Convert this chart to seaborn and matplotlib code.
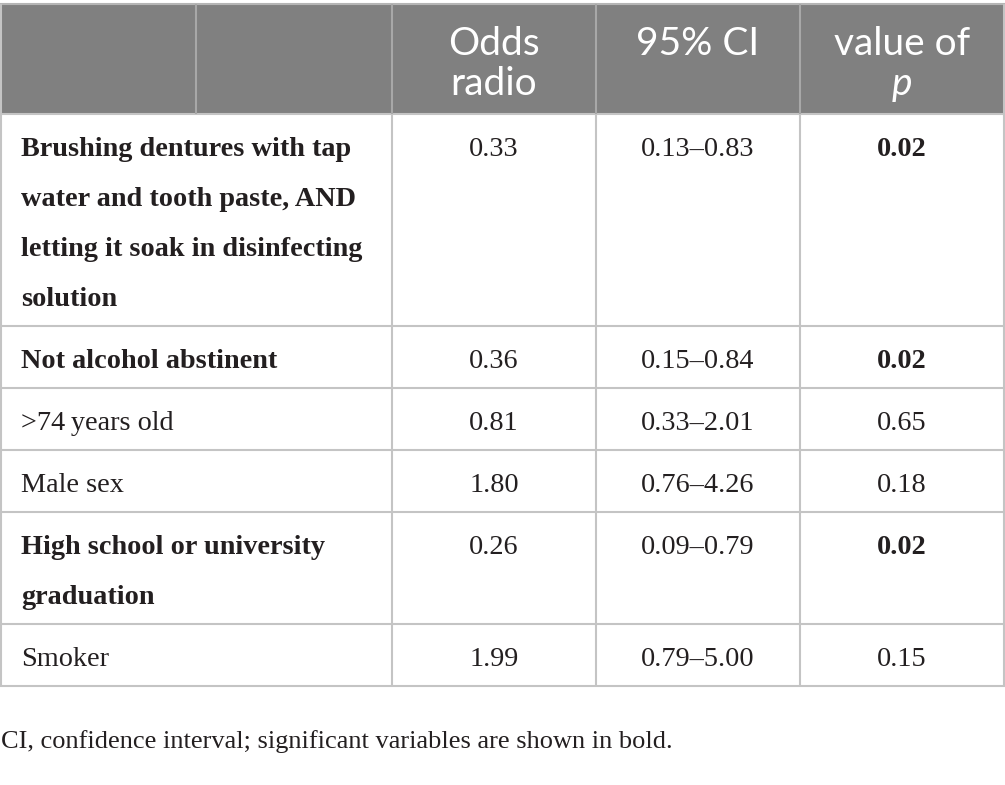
import matplotlib.pyplot as plt
import seaborn as sns
from matplotlib.patches import Rectangle

# Table content
variables = [
    "Brushing dentures with tap\nwater and tooth paste, AND\nletting it soak in disinfecting\nsolution",
    "Not alcohol abstinent",
    ">74\u2009years old",
    "Male sex",
    "High school or university\ngraduation",
    "Smoker",
]
odds_ratio = [0.33, 0.36, 0.81, 1.80, 0.26, 1.99]
ci_lower = [0.13, 0.15, 0.33, 0.76, 0.09, 0.79]
ci_upper = [0.83, 0.84, 2.01, 4.26, 0.79, 5.00]
p_values = [0.02, 0.02, 0.65, 0.18, 0.02, 0.15]
header_lines = [["Odds", "radio"], ["95% CI"], ["value of", "p"]]
footnote = "CI, confidence interval; significant variables are shown in bold."

sns.set_theme(style="white")
serif = ["Liberation Serif", "DejaVu Serif"]
sans = ["Lato", "DejaVu Sans"]

W, H = 1005, 785
fig = plt.figure(figsize=(W / 100, H / 100), dpi=100)
ax = fig.add_axes([0, 0, 1, 1])
ax.set_xlim(0, W)
ax.set_ylim(H, 0)
ax.axis("off")

# geometry (pixels)
col_edges = [0, 392, 596, 800, 1004]
header_top, header_bottom = 4, 114
line_gap = 50
border = "#c4c4c4"
text_col = "#231f20"
body_size = 20.3

# row boundaries from number of text lines
row_tops = [header_bottom]
for v in variables:
    n = v.count("\n") + 1
    row_tops.append(row_tops[-1] + 12 + line_gap * n)
table_bottom = row_tops[-1]

# header background
ax.add_patch(Rectangle((0, header_top), W, header_bottom - header_top,
                       facecolor="#808080", edgecolor="none", zorder=1))

# header text
for j, lines in enumerate(header_lines):
    cx = (col_edges[j + 1] + col_edges[j + 2]) / 2
    for k, line in enumerate(lines):
        style = "italic" if line == "p" else "normal"
        ax.text(cx, 55 + 40 * k, line, ha="center", va="baseline",
                color="white", fontsize=28, family=sans, style=style, zorder=3)

# body text
for i, v in enumerate(variables):
    top = row_tops[i]
    bold = p_values[i] < 0.05
    weight = "bold" if bold else "normal"
    for k, line in enumerate(v.split("\n")):
        ax.text(21, top + 42 + line_gap * k, line, ha="left", va="baseline",
                color=text_col, fontsize=body_size, family=serif, fontweight=weight, zorder=3)
    cells = [f"{odds_ratio[i]:.2f}",
             f"{ci_lower[i]:.2f}\u2013{ci_upper[i]:.2f}",
             f"{p_values[i]:.2f}"]
    for j, c in enumerate(cells):
        cx = (col_edges[j + 1] + col_edges[j + 2]) / 2
        w = weight if j == 2 else "normal"
        ax.text(cx, top + 42, c, ha="center", va="baseline",
                color=text_col, fontsize=body_size, family=serif, fontweight=w, zorder=3)

# grid lines
lw = 1.5
ax.hlines([header_top], 0, W, colors="#b5b5b5", lw=lw, zorder=2)
ax.hlines(row_tops, 0, W, colors=border, lw=lw, zorder=2)
ax.vlines([196], header_top, header_bottom, colors="#a8a8a8", lw=lw, zorder=2)
ax.vlines(col_edges[1:4], header_top, header_bottom, colors="#a8a8a8", lw=lw, zorder=2)
ax.vlines(col_edges[1:4], header_bottom, table_bottom, colors=border, lw=lw, zorder=2)
ax.vlines([1, 1004], header_top, table_bottom, colors=border, lw=lw, zorder=2)

# footnote
ax.text(1, 748, footnote, ha="left", va="baseline", color=text_col,
        fontsize=19, family=serif)

fig.savefig("out.png", dpi=100)
